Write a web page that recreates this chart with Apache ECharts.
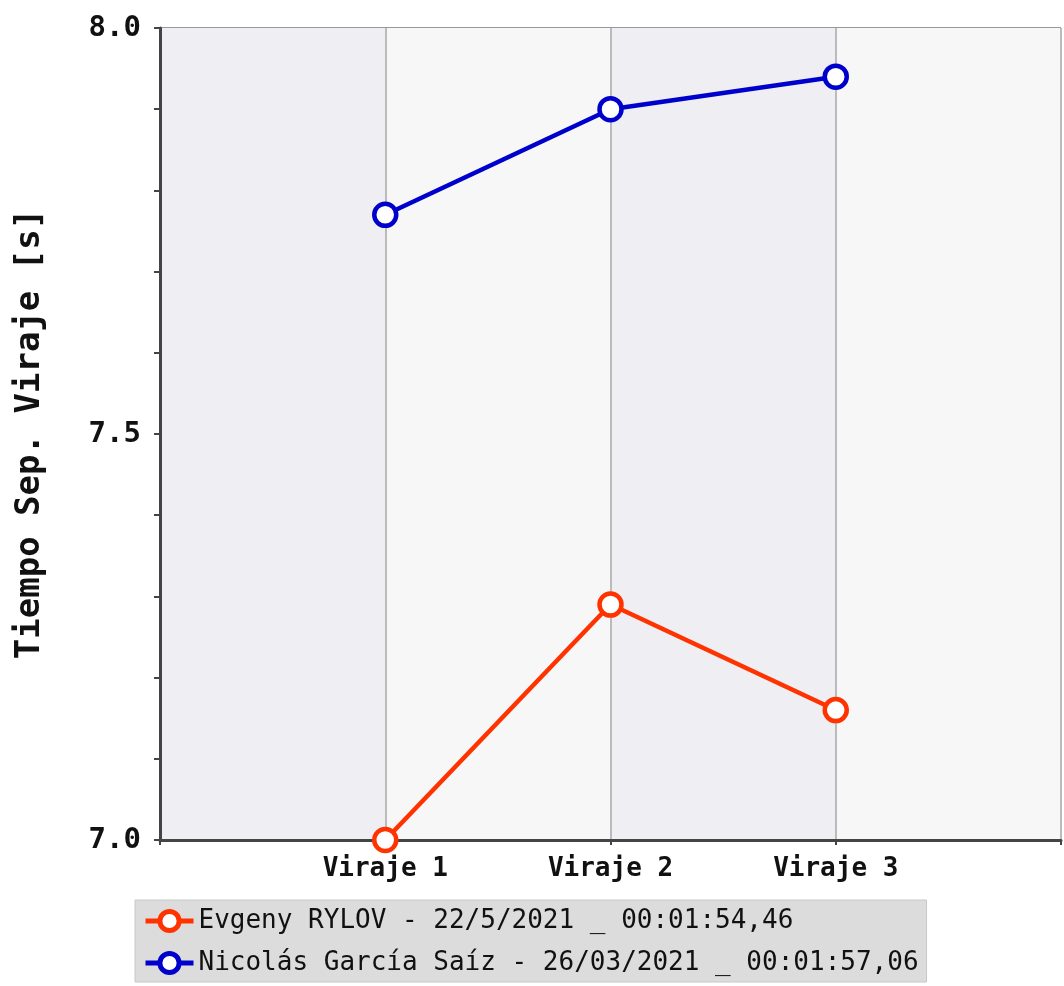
<!DOCTYPE html>
<html>
<head>
<meta charset="utf-8">
<script src="https://cdn.jsdelivr.net/npm/echarts@6/dist/echarts.min.js"></script>
<style>
  html, body { margin: 0; padding: 0; background: #fff; }
  #chart { width: 1064px; height: 986px; }
</style>
</head>
<body>
<div id="chart"></div>
<script>
// categories along x (placed at 1, 2, 3 on a 0..4 scale)
const virajes = ['Viraje 1', 'Viraje 2', 'Viraje 3'];
const rylov = [7.0, 7.29, 7.16];
const garcia = [7.77, 7.90, 7.94];
const seriesNames = [
  'Evgeny RYLOV - 22/5/2021 _ 00:01:54,46',
  'Nicolás García Saíz - 26/03/2021 _ 00:01:57,06'
];
const yTicks = [7.0, 7.5, 8.0];

const mono = '"DejaVu Sans Mono", monospace';

const toPoints = arr => arr.map((v, i) => [i + 1, v]);

const chart = echarts.init(document.getElementById('chart'));
chart.setOption({
  animation: false,
  textStyle: { fontFamily: mono, color: '#111' },
  grid: {
    left: 160, right: 1, top: 28, bottom: 146,
    show: true, borderColor: '#aaa', borderWidth: 1
  },
  legend: {
    orient: 'vertical',
    left: 135, top: 900,
    padding: [8, 8, 6, 8],
    itemGap: 16,
    itemWidth: 48, itemHeight: 24,
    backgroundColor: '#dcdcdc',
    borderColor: '#c8c8c8', borderWidth: 1,
    lineStyle: { width: 5 },
    itemStyle: { borderWidth: 5 },
    textStyle: { fontFamily: mono, fontSize: 26, color: '#111', fontWeight: 500 },
    data: seriesNames
  },
  xAxis: {
    type: 'value',
    min: 0, max: 4, interval: 1,
    axisLine: { show: true, lineStyle: { color: '#444', width: 3 } },
    axisTick: { show: true, length: 5, lineStyle: { color: '#444', width: 2 } },
    axisLabel: {
      margin: 16,
      fontFamily: mono, fontSize: 26, fontWeight: 'bold', color: '#111',
      formatter: v => virajes[v - 1] || ''
    },
    splitLine: { show: true, lineStyle: { color: '#bbb', width: 2 } },
    splitArea: { show: true, areaStyle: { color: ['#eeeef3', '#f7f7f7'] } }
  },
  yAxis: {
    type: 'value',
    min: 7, max: 8, interval: 0.1,
    name: 'Tiempo Sep. Viraje [s]',
    nameLocation: 'middle',
    nameGap: 113,
    nameRotate: 90,
    nameTextStyle: { fontFamily: mono, fontSize: 34, fontWeight: 'bold', color: '#111' },
    axisLine: { show: true, lineStyle: { color: '#444', width: 3 } },
    axisTick: { show: true, length: 6, lineStyle: { color: '#444', width: 2 } },
    axisLabel: {
      margin: 19,
      fontFamily: mono, fontSize: 29, fontWeight: 'bold', color: '#111',
      formatter: v => {
        const t = yTicks.find(x => Math.abs(x - v) < 1e-6);
        return t !== undefined ? t.toFixed(1) : '';
      }
    },
    splitLine: {
      show: true,
      lineStyle: { color: ['#999', '#dcdcdc', '#dcdcdc', '#dcdcdc', '#dcdcdc'], width: 2 }
    }
  },
  series: [
    {
      name: seriesNames[0],
      type: 'line',
      data: toPoints(rylov),
      symbol: 'circle',
      symbolSize: 22,
      lineStyle: { color: '#ff3300', width: 4.5 },
      itemStyle: { color: '#fff', borderColor: '#ff3300', borderWidth: 4.5 },
      z: 3
    },
    {
      name: seriesNames[1],
      type: 'line',
      data: toPoints(garcia),
      symbol: 'circle',
      symbolSize: 22,
      lineStyle: { color: '#0000cc', width: 4.5 },
      itemStyle: { color: '#fff', borderColor: '#0000cc', borderWidth: 4.5 },
      z: 3
    }
  ]
});
</script>
</body>
</html>
